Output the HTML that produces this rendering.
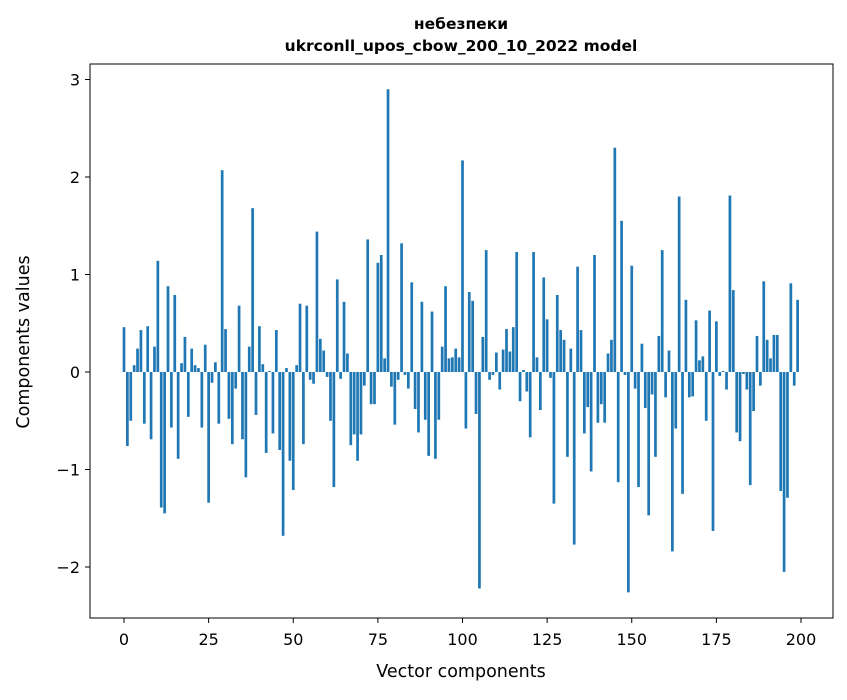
<!DOCTYPE html>
<html><head><meta charset="utf-8"><style>
body{margin:0;background:#fff;font-family:"DejaVu Sans","Liberation Sans",sans-serif}
</style></head><body>
<svg id="chart" width="847" height="696" xmlns="http://www.w3.org/2000/svg" font-family="DejaVu Sans, Liberation Sans, sans-serif">
<rect width="847" height="696" fill="#fff"/>
<text x="461" y="29" text-anchor="middle" font-size="15.5" font-weight="bold">небезпеки</text>
<text x="461" y="51" text-anchor="middle" font-size="15.5" font-weight="bold">ukrconll_upos_cbow_200_10_2022 model</text>
<g id="bars"></g>
<g id="axes"></g>
<rect x="90" y="64" width="743" height="554" fill="none" stroke="#000" stroke-width="1"/>
<text x="461" y="677" text-anchor="middle" font-size="17.5">Vector components</text>
<text transform="translate(29,342) rotate(-90)" text-anchor="middle" font-size="17.5">Components values</text>
</svg>
<script>
const values=[0.46,-0.76,-0.5,0.07,0.24,0.43,-0.53,0.47,-0.69,0.26,1.14,-1.39,-1.45,0.88,-0.57,0.79,-0.89,0.09,0.36,-0.46,0.24,0.07,0.04,-0.57,0.28,-1.34,-0.11,0.10,-0.53,2.07,0.44,-0.48,-0.74,-0.17,0.68,-0.69,-1.08,0.26,1.68,-0.44,0.47,0.08,-0.83,0.01,-0.63,0.43,-0.80,-1.68,0.04,-0.91,-1.21,0.07,0.70,-0.74,0.68,-0.08,-0.12,1.44,0.34,0.22,-0.05,-0.50,-1.18,0.95,-0.07,0.72,0.19,-0.75,-0.64,-0.91,-0.64,-0.14,1.36,-0.33,-0.33,1.12,1.20,0.14,2.90,-0.15,-0.54,-0.08,1.32,-0.03,-0.17,0.92,-0.38,-0.62,0.72,-0.49,-0.86,0.62,-0.89,-0.49,0.26,0.88,0.14,0.15,0.24,0.15,2.17,-0.58,0.82,0.73,-0.43,-2.22,0.36,1.25,-0.08,-0.03,0.20,-0.18,0.23,0.44,0.21,0.46,1.23,-0.30,0.02,-0.20,-0.67,1.23,0.15,-0.39,0.97,0.54,-0.06,-1.35,0.79,0.43,0.33,-0.87,0.24,-1.77,1.08,0.43,-0.63,-0.36,-1.02,1.20,-0.52,-0.33,-0.52,0.19,0.33,2.30,-1.13,1.55,-0.03,-2.26,1.09,-0.17,-1.18,0.29,-0.37,-1.47,-0.23,-0.87,0.37,1.25,-0.26,0.22,-1.84,-0.58,1.80,-1.25,0.74,-0.26,-0.25,0.53,0.12,0.16,-0.50,0.63,-1.63,0.52,-0.04,0.01,-0.18,1.81,0.84,-0.62,-0.71,-0.02,-0.18,-1.16,-0.40,0.37,-0.14,0.93,0.33,0.14,0.38,0.38,-1.22,-2.05,-1.29,0.91,-0.14,0.74];
const xTicks=[0,25,50,75,100,125,150,175,200];
const yTicks=[-2,-1,0,1,2,3];
const yTickLabels=["\u22122","\u22121","0","1","2","3"];
const NS="http://www.w3.org/2000/svg";
function xs(v){return 124+v*(801-124)/200;}
function ys(v){return 372-v*97.5;}
const bars=document.getElementById('bars');
values.forEach((v,i)=>{
  const r=document.createElementNS(NS,'rect');
  
  
  const w=xs(0.8)-xs(0);
  r.setAttribute('x',xs(i)-w/2);
  r.setAttribute('y',Math.min(ys(v),ys(0)));
  r.setAttribute('width',w);
  r.setAttribute('height',Math.abs(ys(v)-ys(0)));
  r.setAttribute('fill','#1f77b4');
  bars.appendChild(r);
});
const axes=document.getElementById('axes');
xTicks.forEach(t=>{
  const l=document.createElementNS(NS,'line');
  
  
  l.setAttribute('x1',xs(t));l.setAttribute('x2',xs(t));l.setAttribute('y1',618);l.setAttribute('y2',623);l.setAttribute('stroke','#000');
  axes.appendChild(l);
  const tx=document.createElementNS(NS,'text');
  
  
  tx.setAttribute('x',xs(t));tx.setAttribute('y',645);tx.setAttribute('text-anchor','middle');tx.setAttribute('font-size','16');
  tx.textContent=t;axes.appendChild(tx);
});
yTicks.forEach((t,i)=>{
  const l=document.createElementNS(NS,'line');
  
  
  l.setAttribute('x1',85);l.setAttribute('x2',90);l.setAttribute('y1',ys(t));l.setAttribute('y2',ys(t));l.setAttribute('stroke','#000');
  axes.appendChild(l);
  const tx=document.createElementNS(NS,'text');
  
  
  tx.setAttribute('x',80);tx.setAttribute('y',ys(t)+6);tx.setAttribute('text-anchor','end');tx.setAttribute('font-size','16');
  tx.textContent=yTickLabels[i];axes.appendChild(tx);
});
</script>
</body></html>
